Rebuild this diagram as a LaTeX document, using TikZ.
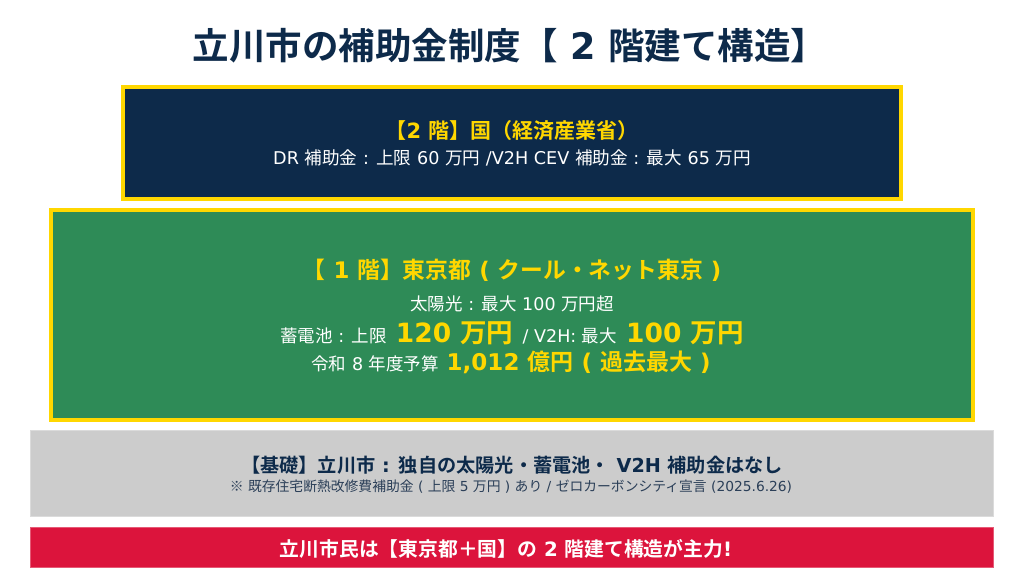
\documentclass[tikz,border=0pt]{standalone}
\usepackage{fontspec}
\setmainfont{DejaVu Sans}
\newfontfamily\cjkfont{Noto Sans CJK JP}[BoldFont={Noto Sans CJK JP Bold}]
\newfontfamily\latfont{DejaVu Sans}
\XeTeXinterchartokenstate=1
\newXeTeXintercharclass\CJKcls
\newcount\cjkc
\def\setcjkrange#1#2{\cjkc=#1\relax\loop\XeTeXcharclass\cjkc=\CJKcls\relax\ifnum\cjkc<#2\advance\cjkc by 1\repeat}
\setcjkrange{"3000}{"30FF}
\setcjkrange{"4E00}{"9FFF}
\setcjkrange{"FF00}{"FFEF}
\XeTeXcharclass"203B=\CJKcls
\XeTeXinterchartoks 0 \CJKcls={\cjkfont}
\XeTeXinterchartoks 4095 \CJKcls={\cjkfont}
\XeTeXinterchartoks \CJKcls 0={\latfont}
\XeTeXinterchartoks \CJKcls 4095={\latfont}
\definecolor{navy}{HTML}{0D2A4A}
\definecolor{gold}{HTML}{FFD700}
\definecolor{sgreen}{HTML}{2E8B57}
\definecolor{lgray}{HTML}{CCCCCC}
\definecolor{crim}{HTML}{DC143C}
\definecolor{notegray}{HTML}{2B3F58}
\newcommand\hilite[2]{{\color{gold}\fontsize{#1}{#1}\selectfont\bfseries #2}}
\tikzset{
  tier/.style={rectangle, inner sep=0pt, line width=3.6pt, draw=gold},
  txt/.style={inner sep=0pt, anchor=center},
  fs/.style={font=\fontsize{#1}{#1}\selectfont},
  fsb/.style={font=\fontsize{#1}{#1}\selectfont\bfseries},
}
\begin{document}
\begin{tikzpicture}[x=1pt,y=-1pt]
\useasboundingbox (0,0) rectangle (1024,577);
\fill[white] (0,0) rectangle (1024,577);
% boxes
\node[tier, fill=navy, minimum width=778pt, minimum height=112pt] (national) at (512,143) {};
\node[tier, fill=sgreen, minimum width=922pt, minimum height=210pt] (tokyo) at (512,315) {};
\node[rectangle, inner sep=0pt, line width=1pt, draw=lgray!70!white, fill=lgray, minimum width=963pt, minimum height=86pt] (city) at (512,473.5) {};
\node[rectangle, inner sep=0pt, line width=1pt, draw=crim!70!white, fill=crim, minimum width=963pt, minimum height=40pt] (summary) at (512,547.5) {};
% title
\node[txt, fsb=36.5, text=navy] (title) at (510,46) {立川市の補助金制度【 2 階建て構造】};
% national
\node[txt, fsb=21, text=gold] (natT) at (512,131) {【2 階】国（経済産業省）};
\node[txt, fs=17.6, text=white] (natL) at (512,158) {DR 補助金 : 上限 60 万円 /V2H CEV 補助金 : 最大 65 万円};
% tokyo
\node[txt, fsb=22.8, text=gold] (tokT) at (512,270) {【 1 階】東京都 ( クール・ネット東京 )};
\node[txt, fs=17.5, text=white] (tokA) at (512,304) {太陽光 : 最大 100 万円超};
\node[txt, fs=17.5, text=white] (tokB) at (512,333) {蓄電池 : 上限\hilite{26.5}{ 120 万円 }/ V2H: 最大\hilite{26.5}{ 100 万円}};
\node[txt, fs=17.5, text=white] (tokC) at (511,362) {令和 8 年度予算\hilite{23}{ 1,012 億円 ( 過去最大 )}};
% city
\node[txt, fsb=19.2, text=navy] (cityT) at (512,465) {【基礎】立川市 : 独自の太陽光・蓄電池・ V2H 補助金はなし};
\node[txt, fs=13.8, text=notegray] (cityN) at (511,487) {※ 既存住宅断熱改修費補助金 ( 上限 5 万円 ) あり / ゼロカーボンシティ宣言 (2025.6.26)};
% summary
\node[txt, fsb=19.8, text=white] (sumT) at (506,549) {立川市民は【東京都＋国】の 2 階建て構造が主力!};
\end{tikzpicture}
\end{document}
